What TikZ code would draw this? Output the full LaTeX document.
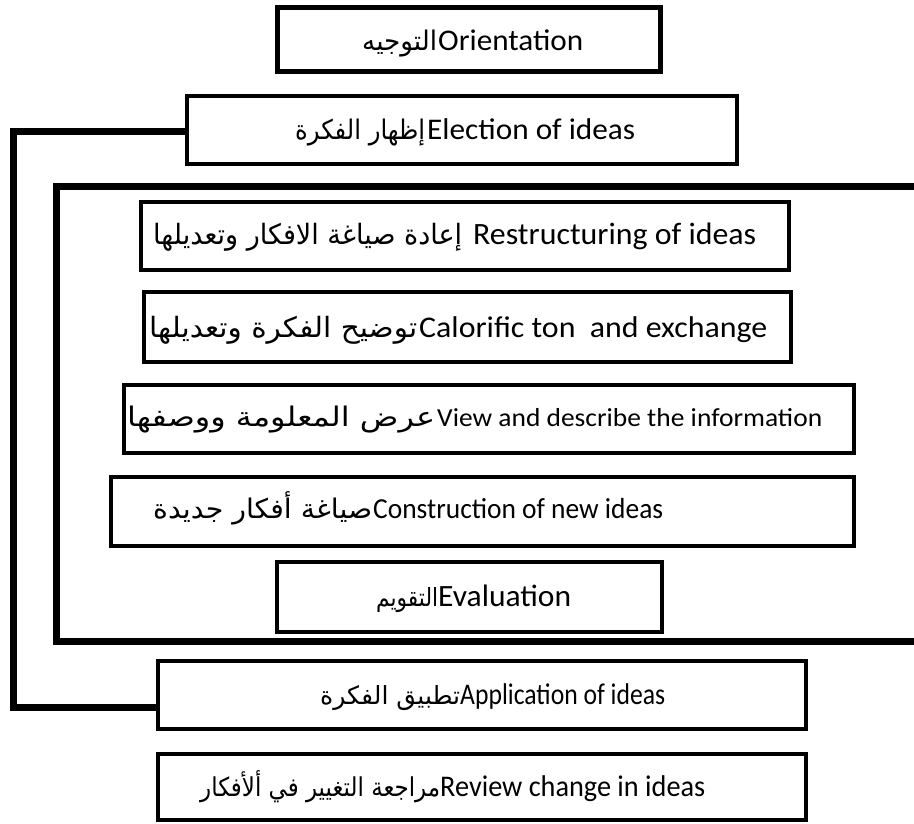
\documentclass[tikz,border=0pt]{standalone}
\usepackage{fontspec}
\usepackage{graphicx}
\setmainfont{Carlito}
\newfontfamily\arabicfont[Script=Arabic]{DejaVu Sans}
\TeXXeTstate=1
\newcommand\artxt[3]{{\fontsize{#1pt}{#1pt}\selectfont\arabicfont\resizebox{#2pt}{\height}{#3}}}
\newcommand\entxt[3]{{\fontsize{#1pt}{#1pt}\selectfont\resizebox{#2pt}{\height}{#3}}}
\tikzset{
  box/.style={draw=black, line width=4pt, rectangle, inner sep=0pt, fill=white},
  heavy/.style={draw=black, line width=7pt, line join=miter, line cap=butt},
  txt/.style={inner sep=0pt, anchor=base west, text=black}
}
\begin{document}
\begin{tikzpicture}[x=1pt, y=-1pt]
\useasboundingbox (0,0) rectangle (914,823);
\fill[white] (0,0) rectangle (914,823);

% outer frame (open on the right)
\coordinate (fTR) at (914,186.5);
\coordinate (fTL) at (56.5,186.5);
\coordinate (fBL) at (56.5,641);
\coordinate (fBR) at (914,641);
\draw[heavy] (fTR) -- (fTL) -- (fBL) -- (fBR);

% boxes
\node[box, line width=5pt, minimum width=383pt, minimum height=64pt] (b1) at (469,39.5) {};
\node[box, minimum width=550.5pt, minimum height=68.5pt] (b2) at (461.75,129.75) {};
\node[box, minimum width=648pt, minimum height=68pt] (b3) at (464.5,235.5) {};
\node[box, minimum width=647pt, minimum height=69.5pt] (b4) at (467.5,326.75) {};
\node[box, minimum width=729.5pt, minimum height=68pt] (b5) at (488.75,418.5) {};
\node[box, minimum width=743pt, minimum height=68.5pt] (b6) at (482,511.25) {};
\node[box, minimum width=385pt, minimum height=70pt] (b7) at (469.5,597) {};
\node[box, minimum width=648pt, minimum height=68pt] (b8) at (482,695) {};
\node[box, minimum width=648pt, minimum height=66pt] (b9) at (482,787) {};

% bracket from election to application
\coordinate (k1) at (13,131);
\coordinate (k2) at (13,707);
\draw[heavy] (b2.west |- k1) -- (k1) -- (k2) -- (b8.west |- k2);

% texts
\node[txt] (t1) at (362,50) {\artxt{27}{75}{\beginR التوجيه\endR}\hspace{1pt}\entxt{30}{145}{Orientation}};
\node[txt] (t2) at (295,139) {\artxt{27}{130}{\beginR إظهار الفكرة\endR}\hspace{2pt}\entxt{30}{208}{Election of ideas}};
\node[txt] (t3) at (153,244) {\artxt{28}{309}{\beginR إعادة صياغة الافكار وتعديلها\endR}\hspace{11pt}\entxt{31}{283}{Restructuring of ideas}};
\node[txt] (t4) at (149,337) {\artxt{28}{268}{\beginR توضيح الفكرة وتعديلها\endR}\hspace{2pt}\entxt{30}{348}{Calorific ton\ \ and exchange}};
\node[txt] (t5) at (127,426) {\artxt{27}{308}{\beginR عرض المعلومة ووصفها\endR}\hspace{2pt}\entxt{26}{385}{View and describe the information}};
\node[txt] (t6) at (153,518) {\artxt{27}{219}{\beginR صياغة أفكار جديدة\endR}\hspace{1pt}\entxt{29}{290}{Construction of new ideas}};
\node[txt] (t7) at (376,606) {\artxt{25}{62}{\beginR التقويم\endR}\entxt{31}{133}{Evaluation}};
\node[txt] (t8) at (320,704) {\artxt{25}{140}{\beginR تطبيق الفكرة\endR}\entxt{30}{205}{Application of ideas}};
\node[txt] (t9) at (200,796) {\artxt{26}{240}{\beginR مراجعة التغيير في ألأفكار\endR}\entxt{30}{265}{Review change in ideas}};
\end{tikzpicture}
\end{document}
